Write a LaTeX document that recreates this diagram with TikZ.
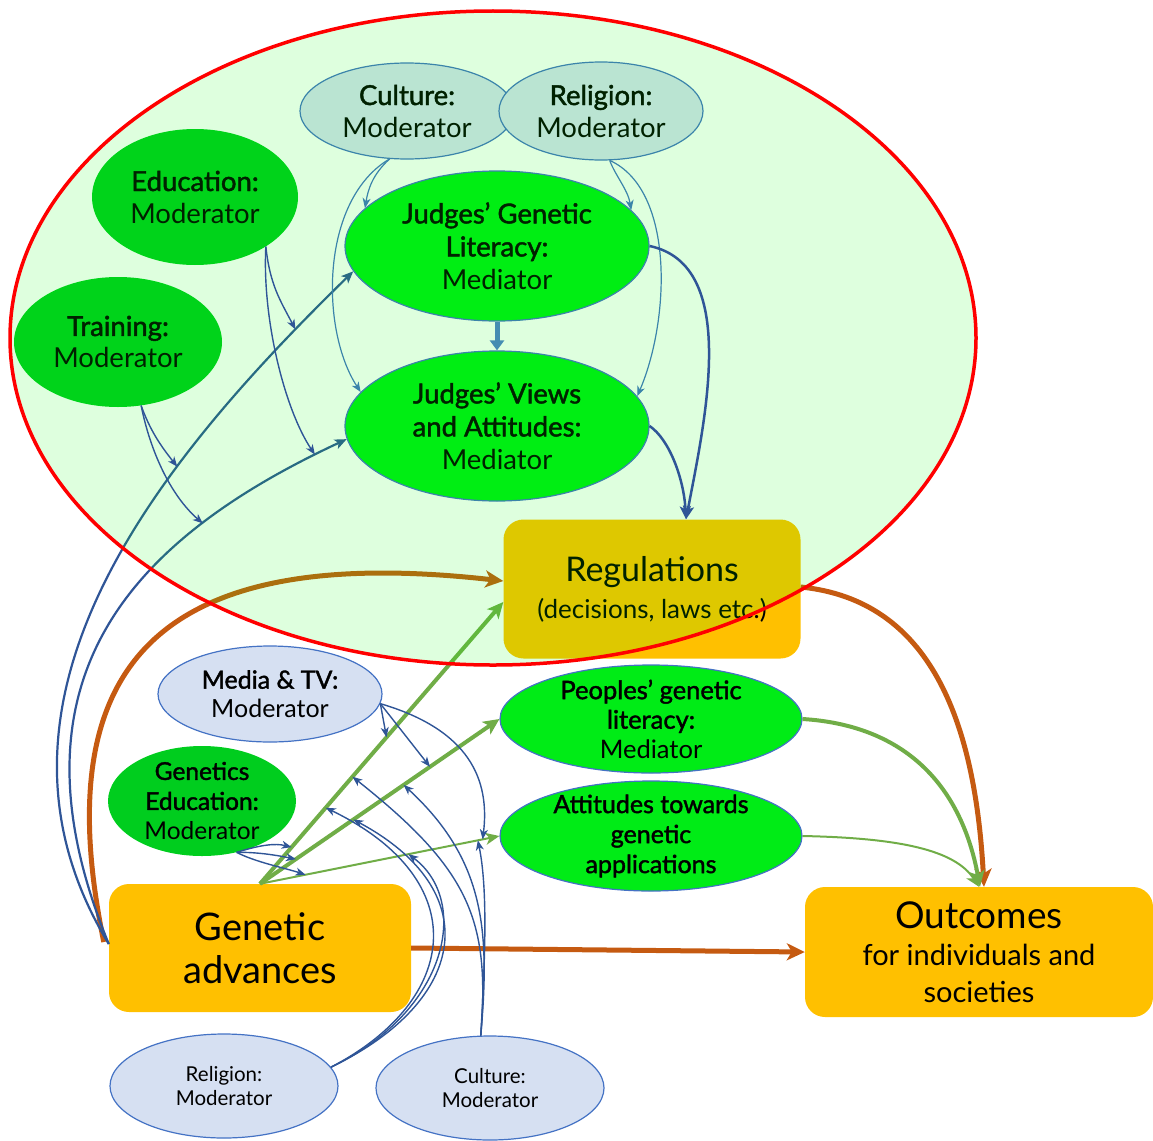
\documentclass[tikz,border=0pt]{standalone}
\usepackage{fontspec}
\setmainfont{Lato}[BoldFont=Lato,BoldFeatures={FakeBold=1.6}]
\usetikzlibrary{arrows.meta,shapes.geometric}
\definecolor{cmod}{RGB}{214,224,242}
\definecolor{cedge}{RGB}{68,114,196}
\definecolor{cmed}{RGB}{0,236,22}
\definecolor{cgmod}{RGB}{0,205,30}
\definecolor{cbox}{RGB}{255,192,0}
\definecolor{cbrown}{RGB}{197,90,17}
\definecolor{cgreen}{RGB}{112,173,71}
\definecolor{cblue}{RGB}{47,85,151}
\definecolor{cthick}{RGB}{80,125,205}
\newcommand{\fs}[2]{\fontsize{#1}{#2}\selectfont}

\begin{document}
\begin{tikzpicture}[x=1pt,y=-1pt,
  oval/.style={ellipse,inner xsep=0pt,inner ysep=-10pt,align=center},
  lightmod/.style={oval,fill=cmod,draw=cedge,line width=1.2pt},
  greenmod/.style={oval,fill=cgmod},
  greenmed/.style={oval,fill=cmed,draw=cedge,line width=1.2pt},
  orbox/.style={rectangle,rounded corners=20pt,fill=cbox,inner sep=0pt,align=center},
  modarr/.style={cblue,line width=1.4pt,-{Stealth[length=10pt,width=8pt,inset=3pt]}},
  judarr/.style={cedge,line width=1.2pt,-{Stealth[length=10pt,width=8pt,inset=3pt]}},
  linkarr/.style={cblue,line width=2.2pt,-{Stealth[length=12pt,width=10pt,inset=3pt]}},
  regarr/.style={cblue,line width=2.5pt,-{Stealth[length=13pt,width=11pt,inset=3pt]}},
  brownarr/.style={cbrown,line width=5pt,-{Stealth[length=18pt,width=17pt,inset=5pt]}},
  greenarr/.style={cgreen,line width=4pt,-{Stealth[length=16pt,width=15pt,inset=4pt]}},
  greenthin/.style={cgreen,line width=2pt,-{Stealth[length=14pt,width=12pt,inset=4pt]}}]
\useasboundingbox (0,0) rectangle (1153,1140);

\node[lightmod,minimum width=214pt,minimum height=96pt,font=\fs{27.5}{32}] (cul) at (407,111) {\textbf{Culture:}\\Moderator};
\node[lightmod,minimum width=204pt,minimum height=98pt,font=\fs{27.5}{32}] (rel) at (601,111) {\textbf{Religion:}\\Moderator};
\node[greenmod,minimum width=206pt,minimum height=136pt,font=\fs{27.5}{32}] (edu) at (195,197) {\textbf{Education:}\\Moderator};
\node[greenmod,minimum width=208pt,minimum height=130pt,font=\fs{27.5}{32}] (trn) at (118,342) {\textbf{Training:}\\Moderator};
\node[greenmed,minimum width=304pt,minimum height=150pt,font=\fs{27.5}{33}] (jgl) at (497,246) {\textbf{Judges’ Genetic}\\\textbf{Literacy:}\\Mediator};
\node[greenmed,minimum width=304pt,minimum height=150pt,font=\fs{27.5}{33}] (jva) at (497,426) {\textbf{Judges’ Views}\\\textbf{and Attitudes:}\\Mediator};
\node[orbox,minimum width=297pt,minimum height=139pt,font=\fs{26}{37}] (reg) at (652,589) {{\fs{34}{38}Regulations}\\{\fs{26}{30}(decisions, laws etc.)}};
\node[lightmod,minimum width=224pt,minimum height=96pt,font=\fs{25}{29}] (mtv) at (270,694) {\textbf{Media \& TV:}\\Moderator};
\node[greenmod,minimum width=188pt,minimum height=110pt,font=\fs{24.5}{30}] (ged) at (202,801) {\textbf{Genetics}\\\textbf{Education:}\\Moderator};
\node[greenmed,minimum width=302pt,minimum height=108pt,font=\fs{25.5}{29.5}] (ppl) at (651,719) {\textbf{Peoples’ genetic}\\\textbf{literacy:}\\Mediator};
\node[greenmed,minimum width=302pt,minimum height=110pt,font=\fs{25}{30}\bfseries] (att) at (651,836) {Attitudes towards\\genetic\\applications};
\node[orbox,minimum width=302pt,minimum height=128pt,font=\fs{38}{43}] (ga) at (260,948) {Genetic\\advances};
\node[orbox,minimum width=348pt,minimum height=130pt,font=\fs{29}{37}] (out) at (979,952) {{\fs{37}{40}Outcomes}\\{\fs{29}{34}for individuals and}\\{\fs{29}{34}societies}};
\node[lightmod,minimum width=228pt,minimum height=104pt,font=\fs{20.5}{24}] (relb) at (224,1086) {Religion:\\Moderator};
\node[lightmod,minimum width=228pt,minimum height=104pt,font=\fs{20.5}{24}] (culb) at (490,1088) {Culture:\\Moderator};

\draw[brownarr] ([xshift=-5pt,yshift=6pt]ga.west) .. controls (50,680) and (140,540) .. ([yshift=8pt]reg.west);
\draw[brownarr] (ga.east) -- (out.west);
\draw[brownarr] ([yshift=2pt]reg.east) .. controls (930,600) and (975,720) .. ([xshift=5pt]out.north);

\draw[greenarr] (ga.north) -- coordinate[pos=.13] (g1) coordinate[pos=.27] (r1) coordinate[pos=.38] (c1) coordinate[pos=.52] (m1) ([yshift=-13pt]reg.west);
\draw[greenarr] (ga.north) -- coordinate[pos=.15] (g2) coordinate[pos=.39] (r2) coordinate[pos=.60] (c2) coordinate[pos=.71] (m2) (ppl.west);
\draw[greenthin] (ga.north) -- coordinate[pos=.19] (g3) coordinate[pos=.62] (r3) coordinate[pos=.91] (c3) coordinate[pos=.93] (m3) (att.west);
\draw[greenarr] (ppl.east) .. controls (900,725) and (960,780) .. ([xshift=1pt]out.north);
\draw[greenthin] (att.east) .. controls (900,838) and (955,850) .. (out.north);

\draw[linkarr] ([yshift=4pt]ga.west) .. controls (-40,700) and (160,460) .. coordinate[pos=.68] (t1) coordinate[pos=.9] (e1) (jgl.190);
\draw[linkarr] ([yshift=4pt]ga.west) .. controls (0,680) and (130,540) .. coordinate[pos=.75] (t2) coordinate[pos=.95] (e2) (jva.185);
\draw[cthick,line width=5pt,-{Triangle[length=10pt,width=14pt]}] (jgl.south) -- (jva.north);

\draw[judarr] (cul.250) .. controls (372,175) and (368,190) .. (jgl.164);
\draw[judarr] (cul.250) .. controls (320,200) and (320,330) .. (jva.166);
\draw[judarr] (rel.280) .. controls (615,175) and (628,190) .. (jgl.15);
\draw[judarr] (rel.280) .. controls (675,190) and (670,320) .. (jva.12);

\draw[modarr] (mtv.-5) -- (m1);
\draw[modarr] (mtv.-5) -- (m2);
\draw[modarr] (mtv.-5) .. controls (470,730) and (490,780) .. (m3);
\draw[modarr] (ged.-56) .. controls (260,845) and (275,843) .. (g1);
\draw[modarr] (ged.-56) .. controls (260,852) and (280,856) .. (g2);
\draw[modarr] (ged.-56) .. controls (255,862) and (285,868) .. (g3);
\draw[modarr] (relb.10) .. controls (460,1000) and (475,880) .. (r1);
\draw[modarr] (relb.10) .. controls (470,1000) and (485,890) .. (r2);
\draw[modarr] (relb.10) .. controls (450,1010) and (470,900) .. (r3);
\draw[modarr] (culb.100) .. controls (490,920) and (470,870) .. (c1);
\draw[modarr] (culb.100) .. controls (490,930) and (485,860) .. (c2);
\draw[modarr] (culb.100) .. controls (485,960) and (488,890) .. (c3);

\fill[green,fill opacity=.13] (493,338) ellipse [x radius=483pt,y radius=327pt];

\draw[modarr] (edu.-35) .. controls (270,285) and (280,300) .. (e1);
\draw[modarr] (edu.-35) .. controls (262,320) and (285,410) .. (e2);
\draw[modarr] (trn.-70) .. controls (150,430) and (160,445) .. (t1);
\draw[modarr] (trn.-70) .. controls (150,450) and (170,495) .. (t2);
\draw[regarr] (jgl.east) .. controls (740,265) and (705,420) .. ([xshift=34pt]reg.north);
\draw[regarr] (jva.east) .. controls (670,440) and (684,480) .. ([xshift=34pt]reg.north);

\draw[red,line width=3.5pt] (493,338) ellipse [x radius=483pt,y radius=327pt];
\end{tikzpicture}
\end{document}
